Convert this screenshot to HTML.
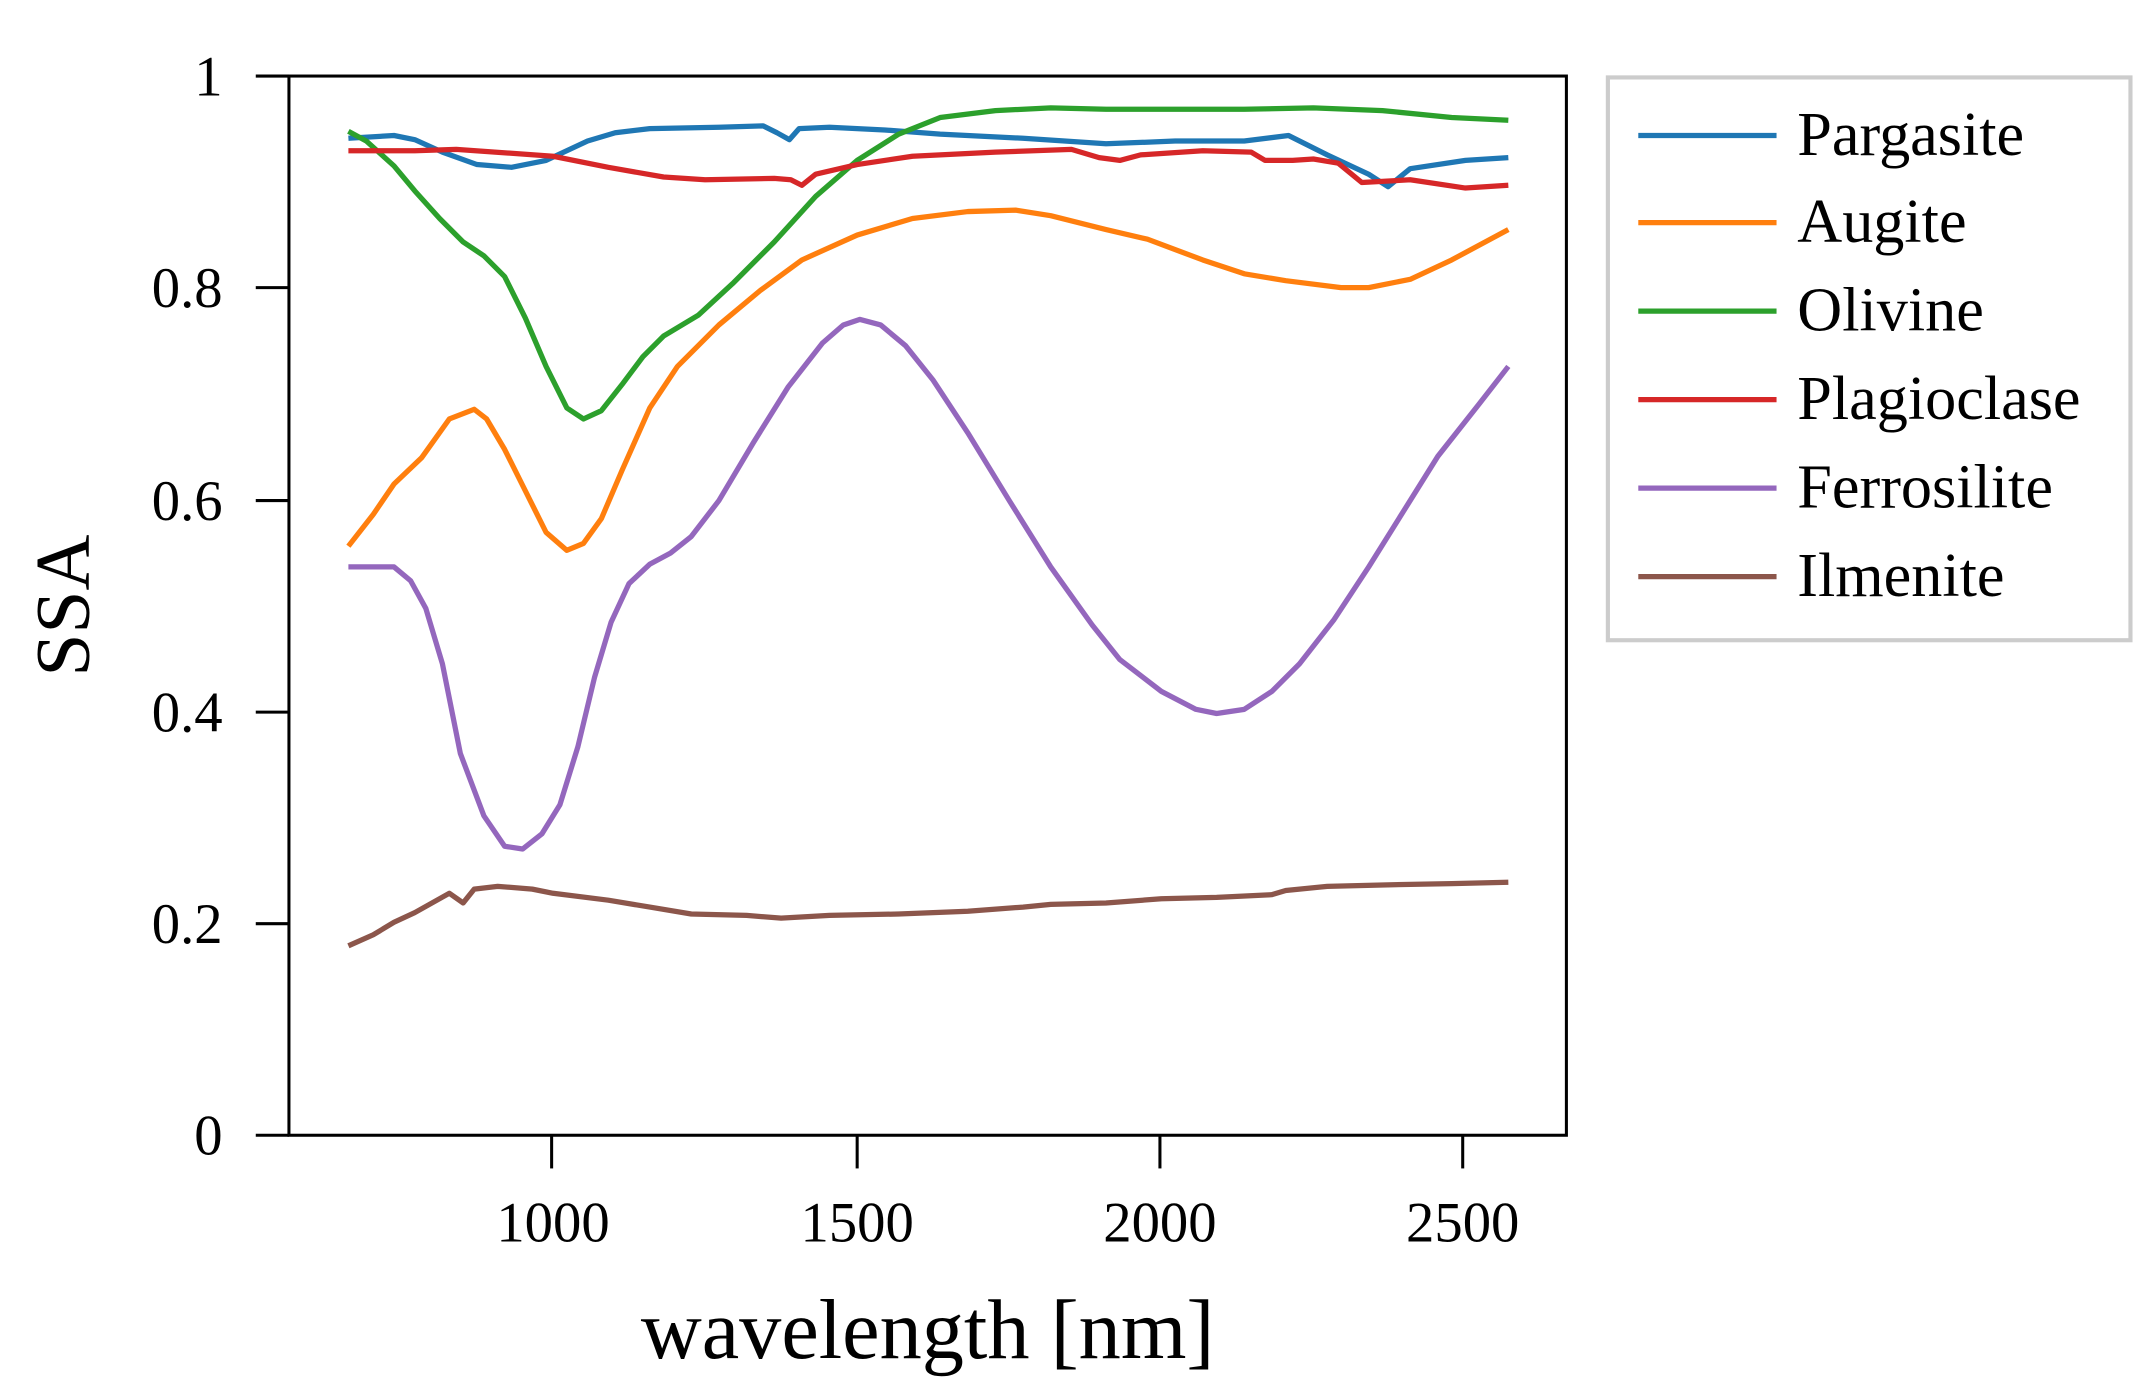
<!DOCTYPE html>
<html><head><meta charset="utf-8"><style>html,body{margin:0;padding:0;background:#fff}svg{display:block}</style></head><body>
<svg width="2136" height="1380" viewBox="0 0 1545 998" preserveAspectRatio="none" xmlns="http://www.w3.org/2000/svg" font-family="Liberation Serif, serif">
<rect width="1545" height="998" fill="#fff"/>
<g fill="none" stroke-width="3.8" stroke-linejoin="round">
<polyline stroke="#1f77b4" points="252,100 285,98 300,101 320,110 345,119 370,121 395,116 425,102 445,96 470,93 520,92 552,91 562,96 571,101 578,93 600,92 640,94 680,97 740,100 800,104 850,102 900,102 932,98 960,112 990,126 1004,135 1020,122 1060,116 1091,114"/>
<polyline stroke="#ff7f0e" points="252,395 270,372 285,350 305,331 325,303 343,296 352,303 365,325 380,355 395,385 410,398 422,393 435,375 450,340 470,295 490,265 520,235 550,210 580,188 620,170 660,158 700,153 735,152 760,156 800,166 830,173 870,188 900,198 930,203 970,208 990,208 1020,202 1050,188 1091,166"/>
<polyline stroke="#2ca02c" points="252,95 265,102 285,120 300,138 318,158 335,175 350,185 365,200 380,230 395,265 410,295 422,303 435,297 450,278 465,258 480,243 505,228 530,205 560,175 590,142 620,116 650,97 680,85 720,80 760,78 800,79 840,79 900,79 950,78 1000,80 1050,85 1091,87"/>
<polyline stroke="#d62728" points="252,109 300,109 330,108 400,113 440,121 480,128 510,130 560,129 572,130 580,134 590,126 620,119 660,113 720,110 775,108 795,114 810,116 825,112 870,109 905,110 915,116 935,116 950,115 968,118 985,132 1020,130 1060,136 1091,134"/>
<polyline stroke="#9467bd" points="252,410 285,410 297,420 308,440 320,480 333,545 350,590 365,612 378,614 392,603 405,582 418,540 430,490 442,450 455,422 470,408 485,400 500,388 520,362 545,320 570,280 595,248 610,235 622,231 637,235 655,250 675,275 700,313 730,362 760,410 790,452 810,477 840,500 865,513 880,516 900,513 920,500 940,480 965,448 990,410 1015,370 1040,330 1070,292 1091,265"/>
<polyline stroke="#8c564b" points="252,684 270,676 285,667 300,660 325,646 335,653 343,643 360,641 385,643 400,646 440,651 470,656 500,661 540,662 565,664 600,662 650,661 700,659 740,656 760,654 800,653 840,650 880,649 920,647 930,644 960,641 1000,640 1050,639 1091,638"/>
</g>
<rect x="209" y="55" width="924" height="766" fill="none" stroke="#000" stroke-width="2.2"/>
<g stroke="#000" stroke-width="2.2">
<line x1="185" y1="55" x2="209" y2="55"/><line x1="185" y1="208" x2="209" y2="208"/><line x1="185" y1="362" x2="209" y2="362"/><line x1="185" y1="515" x2="209" y2="515"/><line x1="185" y1="668" x2="209" y2="668"/><line x1="185" y1="821" x2="209" y2="821"/>
<line x1="399" y1="821" x2="399" y2="845"/><line x1="620" y1="821" x2="620" y2="845"/><line x1="839" y1="821" x2="839" y2="845"/><line x1="1058" y1="821" x2="1058" y2="845"/>
</g>
<g font-size="41" text-anchor="end">
<text x="161" y="69">1</text><text x="161" y="222">0.8</text><text x="161" y="376">0.6</text><text x="161" y="529">0.4</text><text x="161" y="682">0.2</text><text x="161" y="835">0</text>
</g>
<g font-size="41" text-anchor="middle">
<text x="400" y="898">1000</text><text x="620" y="898">1500</text><text x="839" y="898">2000</text><text x="1058" y="898">2500</text>
</g>
<text x="671" y="982" font-size="61" text-anchor="middle">wavelength [nm]</text>
<text transform="translate(64,438) rotate(-90)" font-size="56" text-anchor="middle">SSA</text>
<rect x="1163" y="56" width="378" height="407" fill="#fff" stroke="#ccc" stroke-width="3"/>
<g stroke-width="3.8">
<line x1="1185" y1="98" x2="1285" y2="98" stroke="#1f77b4"/>
<line x1="1185" y1="161" x2="1285" y2="161" stroke="#ff7f0e"/>
<line x1="1185" y1="225" x2="1285" y2="225" stroke="#2ca02c"/>
<line x1="1185" y1="289" x2="1285" y2="289" stroke="#d62728"/>
<line x1="1185" y1="353" x2="1285" y2="353" stroke="#9467bd"/>
<line x1="1185" y1="417" x2="1285" y2="417" stroke="#8c564b"/>
</g>
<g font-size="45">
<text x="1300" y="112">Pargasite</text><text x="1300" y="175">Augite</text><text x="1300" y="239">Olivine</text><text x="1300" y="303">Plagioclase</text><text x="1300" y="367">Ferrosilite</text><text x="1300" y="431">Ilmenite</text>
</g>
</svg>
</body></html>
